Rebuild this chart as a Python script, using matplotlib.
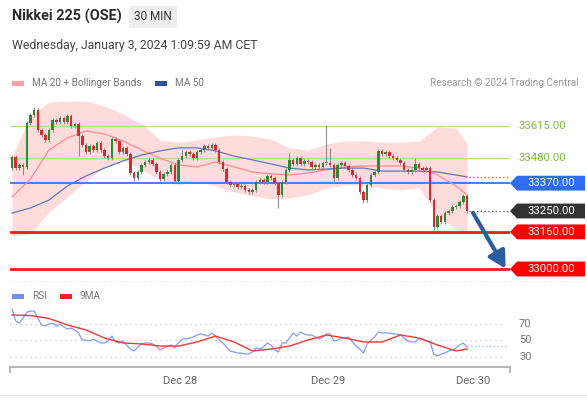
import matplotlib
matplotlib.use("Agg")
import matplotlib.pyplot as plt
import numpy as np
from matplotlib.patches import Polygon, Rectangle

plt.rcParams['font.family'] = ['Roboto', 'DejaVu Sans']

# 30 min closes, Nikkei 225 (OSE) futures
first_open = 33435
closes = [33483, 33435, 33448, 33440, 33629, 33664, 33685, 33599, 33578, 33556,
          33599, 33642, 33634, 33651, 33634, 33660, 33616, 33625, 33573, 33534,
          33504, 33530, 33513, 33543, 33513, 33487, 33478, 33560, 33552, 33504,
          33522, 33496, 33414, 33392, 33418, 33448, 33461, 33470, 33453, 33418,
          33388, 33410, 33418, 33448, 33379, 33470, 33487, 33504, 33496, 33478,
          33504, 33513, 33530, 33522, 33534, 33513, 33461, 33431, 33375, 33362,
          33366, 33353, 33358, 33341, 33332, 33341, 33375, 33384, 33375, 33401,
          33392, 33371, 33319, 33375, 33427, 33470, 33453, 33478, 33453, 33466,
          33461, 33440, 33448, 33440, 33457, 33457, 33448, 33392, 33448, 33457,
          33444, 33427, 33405, 33392, 33332, 33297, 33362, 33405, 33418, 33509,
          33496, 33504, 33487, 33478, 33470, 33457, 33427, 33418, 33427, 33453,
          33435, 33427, 33435, 33297, 33181, 33228, 33203, 33241, 33250, 33267,
          33272, 33289, 33315, 33250]
wick_high = {6: 33700, 46: 33513, 75: 33500, 85: 33620, 86: 33522, 109: 33478}
wick_low = {3: 33405, 18: 33487, 33: 33379, 72: 33263, 87: 33371, 95: 33285,
            114: 33170, 123: 33241}

# indicators sampled every 5 bars
ma_idx = [0, 5, 10, 15, 20, 25, 30, 35, 40, 45, 50, 55, 60, 65, 70, 75, 80, 85,
          90, 95, 100, 105, 110, 115, 120, 123]
ma20 = [33310, 33388, 33513, 33565, 33595, 33582, 33552, 33513, 33478, 33448,
        33440, 33461, 33440, 33418, 33410, 33405, 33414, 33427, 33440, 33444,
        33444, 33444, 33435, 33405, 33358, 33319]
ma50 = [33241, 33263, 33297, 33358, 33401, 33435, 33466, 33491, 33509, 33522,
        33522, 33509, 33487, 33470, 33453, 33435, 33427, 33431, 33435, 33435,
        33422, 33422, 33422, 33418, 33405, 33397]
bb_upper = [33483, 33664, 33720, 33724, 33724, 33703, 33668, 33625, 33556, 33547,
            33556, 33569, 33578, 33573, 33560, 33522, 33513, 33539, 33552, 33552,
            33547, 33547, 33552, 33612, 33608, 33543]
bb_lower = [33142, 33151, 33246, 33310, 33379, 33440, 33470, 33427, 33384, 33362,
            33379, 33358, 33332, 33315, 33302, 33306, 33319, 33349, 33362, 33362,
            33349, 33341, 33349, 33233, 33168, 33151]

rsi = [87.6, 73.0, 70.6, 76.7, 83.9, 85.1, 85.1, 76.7, 68.2, 67.0,
       69.4, 70.6, 67.0, 69.4, 65.8, 63.3, 64.5, 62.1, 58.5, 50.0,
       50.0, 48.8, 51.2, 48.8, 46.4, 46.4, 48.8, 54.8, 47.6, 46.4,
       48.8, 44.0, 39.1, 36.7, 41.5, 45.2, 46.4, 46.4, 45.2, 42.7,
       37.9, 40.3, 42.7, 44.0, 40.3, 46.4, 51.2, 51.2, 52.4, 53.6,
       56.1, 57.3, 56.1, 54.8, 58.5, 54.8, 50.0, 46.4, 41.5, 36.7,
       35.5, 34.2, 34.2, 33.0, 33.0, 35.5, 40.3, 39.1, 41.5, 46.4,
       44.0, 37.9, 35.5, 46.4, 46.4, 52.4, 58.5, 54.8, 59.7, 57.3,
       56.1, 56.1, 53.6, 51.2, 53.6, 57.3, 57.3, 48.8, 50.0, 52.4,
       52.4, 53.6, 47.6, 42.7, 39.1, 34.2, 45.2, 50.0, 53.6, 59.7,
       58.5, 58.5, 58.5, 57.3, 57.3, 56.1, 52.4, 48.8, 47.6, 47.6,
       51.2, 51.2, 48.8, 47.6, 33.0, 30.6, 33.0, 34.2, 36.7, 37.9,
       40.3, 44.0, 46.4, 41.5]
rsi_ma = [80.3, 79.7, 76.1, 68.2, 62.1, 52.4, 46.4, 45.2, 42.7, 42.7,
          47.6, 54.8, 47.6, 36.7, 39.1, 42.7, 50.0, 56.1, 52.4, 47.6,
          47.6, 56.1, 52.4, 43.9, 36.7, 39.1]
rsi_levels = [70, 50, 30]

resistances = [33615, 33480]
pivot = 33370
last_price = 33250
supports = [33160, 33000]
target = 33000

day_labels = ["Dec 28", "Dec 29", "Dec 30"]
day_bars = [45.5, 85.5, 124.5]

GREEN = '#2a8a3a'
RED = '#e3262b'
W, H = 587, 401

fig = plt.figure(figsize=(W / 100, H / 100), dpi=100)
fig.patch.set_facecolor('white')


def px_rect(x0, y0, x1, y1):
    return [x0 / W, 1 - y1 / H, (x1 - x0) / W, (y1 - y0) / H]


ax = fig.add_axes(px_rect(10, 98, 510, 282))
rx = fig.add_axes(px_rect(10, 300, 510, 367), sharex=ax)
for a in (ax, rx):
    a.set_facecolor('none')
    for s in a.spines.values():
        s.set_visible(False)
    a.tick_params(left=False, bottom=False, labelleft=False, labelbottom=False)

n = len(closes)
ax.set_xlim(-0.54, 134.6)
ax.set_ylim(32944, 33737)

# bollinger band + moving averages
ax.fill_between(ma_idx, bb_lower, bb_upper, color='#ffdcdc', lw=0, zorder=1)
ax.plot(ma_idx, ma20, color='#ff8c8c', lw=0.9, zorder=2)
ax.plot(ma_idx, ma50, color='#5a78bd', lw=0.9, zorder=2)

# horizontal levels
for lv in resistances:
    ax.axhline(lv, color='#b8dd94', lw=1, zorder=1.5)
ax.axhline(pivot, color='#3d74e8', lw=1.3, zorder=1.5)
for lv in supports:
    ax.axhline(lv, color='#ff1a1a', lw=2, zorder=1.5)
ax.plot([n - 0.5, 134.6], [ma50[-1], ma50[-1]], color='#5a78bd', lw=0.9, ls=(0, (1, 2)))
ax.plot([n - 0.5, 134.6], [last_price, last_price], color='#555555', lw=0.9, ls=(0, (1, 2)))

# candles
opens = [first_open] + closes[:-1]
for i, (o, c) in enumerate(zip(opens, closes)):
    hi = wick_high.get(i, max(o, c) + 8)
    lo = wick_low.get(i, min(o, c) - 8)
    col = GREEN if c > o else RED if c < o else '#888888'
    ax.vlines(i, lo, hi, color='#8c8c8c', lw=0.8, zorder=3)
    ax.add_patch(Rectangle((i - 0.34, min(o, c)), 0.68, max(abs(c - o), 3),
                           facecolor=col, edgecolor='none', zorder=4))

# projected move arrow
ax.annotate('', xy=(133.4, target + 2), xytext=(124.6, last_price - 8),
            arrowprops=dict(arrowstyle='-|>,head_length=1.0,head_width=0.55',
                            color='#2c5d9e', lw=3.0, shrinkA=0, shrinkB=0), zorder=6)

# right-hand price labels
yt = ax.get_yaxis_transform()
half = 32


def price_box(price, color):
    pts = [(1.0, price), (1.014, price + half), (1.15, price + half),
           (1.15, price - half), (1.014, price - half)]
    ax.add_patch(Polygon(pts, closed=True, transform=yt, facecolor=color,
                         edgecolor='none', clip_on=False, zorder=7))
    ax.text(1.082, price, f"{price:.2f}", transform=yt, ha='center', va='center',
            color='white', fontsize=8.2, clip_on=False, zorder=8)


for lv in resistances:
    ax.text(1.016, lv, f"{lv:.2f}", transform=yt, ha='left', va='center',
            color='#7cbf3c', fontsize=8.2, clip_on=False)
price_box(pivot, '#2f6cf2')
price_box(last_price, '#333333')
for lv in supports:
    price_box(lv, '#ff0000')

# RSI panel
rx.set_ylim(17.3, 98.5)
for lv in rsi_levels:
    rx.axhline(lv, xmax=0.99, color='#c8c8c8', lw=0.9, ls=(0, (1, 3)))
    rx.text(1.018, lv, str(lv), transform=rx.get_yaxis_transform(), ha='left',
            va='center', color='#777777', fontsize=8, clip_on=False)
rx.plot(range(n), rsi, color='#7f9df2', lw=0.9, zorder=3)
rx.plot(ma_idx, rsi_ma, color='#ff3535', lw=1.0, zorder=4)
rx.plot([n - 1, 133.5], [rsi[-1] + 1, rsi[-1] + 1], color='#9db3f5', lw=0.9, ls=(0, (1, 2)))

# bottom time axis bracket
xt = rx.get_xaxis_transform()
rx.plot([0, 1], [0, 0], transform=rx.transAxes, color='#aaaaaa', lw=1.2, clip_on=False)
rx.plot([0, 0], [0, -0.08], transform=rx.transAxes, color='#aaaaaa', lw=1.2, clip_on=False)
rx.plot([1, 1], [0, -0.08], transform=rx.transAxes, color='#aaaaaa', lw=1.2, clip_on=False)
for lab, pos in zip(day_labels, day_bars):
    rx.text(pos, -0.21, lab, transform=xt, ha='center', va='center',
            color='#666666', fontsize=8, clip_on=False)

# header and legends
fig.text(12 / W, 1 - 16 / H, "Nikkei 225 (OSE)", fontsize=10.4, fontweight='bold',
         color='#2b2b2b', va='center')
fig.patches.append(Rectangle((129 / W, 1 - 28 / H), 48 / W, 22 / H, transform=fig.transFigure,
                             facecolor='#eeeeee', edgecolor='none'))
fig.text(153 / W, 1 - 17 / H, "30 MIN", fontsize=8.5, color='#333333', ha='center', va='center')
fig.text(12 / W, 1 - 45 / H, "Wednesday, January 3, 2024 1:09:59 AM CET", fontsize=8.8,
         color='#444444', va='center')


def legend_item(x, y, color, label):
    fig.patches.append(Rectangle((x / W, 1 - (y + 2.5) / H), 12 / W, 5 / H,
                                 transform=fig.transFigure, facecolor=color, edgecolor='none'))
    fig.text((x + 20) / W, 1 - y / H, label, fontsize=7.2, color='#777777', va='center')


legend_item(12, 83, '#f7a1a1', "MA 20 + Bollinger Bands")
legend_item(155, 83, '#2f5597', "MA 50")
fig.text(578 / W, 1 - 83 / H, "Research \u00a9 2024 Trading Central", fontsize=7.2,
         color='#9a9a9a', ha='right', va='center')
legend_item(12, 296, '#6d8ff0', "RSI")
legend_item(60, 296, '#ff1f1f', "9MA")

fig.add_artist(plt.Line2D([10 / W, 1], [1 - 281 / H, 1 - 281 / H], color='#e6e6e6',
                          lw=0.8, ls=(0, (1, 2))))
fig.add_artist(plt.Line2D([0, 1], [1 - 395 / H, 1 - 395 / H], color='#e8e8e8', lw=1))

fig.savefig("out.png", dpi=100)
